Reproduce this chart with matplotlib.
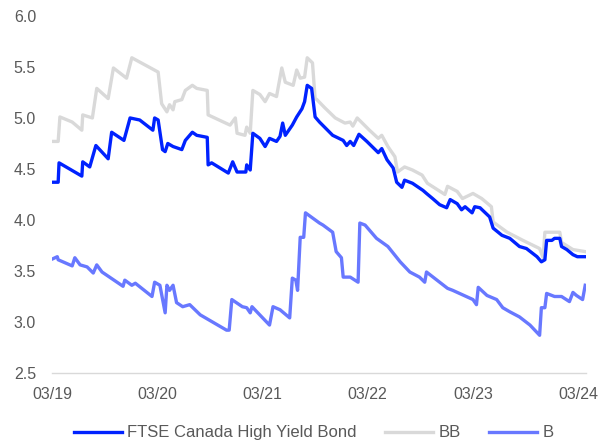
import matplotlib.pyplot as plt

plt.rcParams['font.family'] = ['Liberation Sans', 'DejaVu Sans']

# months since March 2019, yield (%)
hy_months = [0.1, 0.7, 0.8, 3.4, 3.5, 4.3, 5.0, 6.4, 6.8, 8.2, 8.9, 10.0, 11.5, 11.7,
             12.1, 12.6, 12.9, 13.2, 13.8, 14.8, 15.2, 16.0, 16.5, 17.7, 17.8, 18.2,
             20.1, 20.6, 21.1, 22.1, 22.2, 22.6, 22.9, 23.7, 24.3, 24.8, 25.6, 26.0,
             26.3, 26.6, 27.4, 27.9, 28.5, 28.8, 29.1, 29.6, 30.0, 30.5, 32.0, 33.2,
             33.6, 34.0, 34.4, 35.0, 35.9, 37.2, 37.6, 38.2, 38.9, 39.3, 39.9, 40.2,
             41.1, 42.3, 42.7, 43.4, 44.2, 45.0, 45.4, 46.2, 46.7, 47.1, 47.9, 48.2,
             48.8, 49.9, 50.3, 51.3, 52.2, 53.3, 54.1, 55.3, 55.8, 56.2, 56.4, 57.0,
             57.3, 57.9, 58.1, 58.7, 59.4, 59.9, 60.9]
hy_yield = [4.37, 4.37, 4.56, 4.43, 4.57, 4.52, 4.73, 4.60, 4.86, 4.78, 5.00, 4.98, 4.88, 5.00,
            4.98, 4.69, 4.67, 4.75, 4.72, 4.69, 4.78, 4.86, 4.83, 4.81, 4.54, 4.56,
            4.46, 4.57, 4.47, 4.47, 4.54, 4.49, 4.85, 4.80, 4.72, 4.80, 4.77, 4.82,
            4.95, 4.83, 4.93, 5.01, 5.09, 5.16, 5.32, 5.29, 5.01, 4.96, 4.83, 4.78,
            4.73, 4.77, 4.73, 4.84, 4.77, 4.66, 4.70, 4.59, 4.51, 4.37, 4.32, 4.39,
            4.36, 4.29, 4.26, 4.21, 4.15, 4.12, 4.20, 4.16, 4.10, 4.13, 4.07, 4.13,
            4.12, 4.03, 3.92, 3.85, 3.82, 3.74, 3.72, 3.64, 3.59, 3.61, 3.80, 3.80,
            3.82, 3.82, 3.74, 3.71, 3.66, 3.64, 3.64]

bb_months = [0.1, 0.7, 0.9, 2.3, 3.4, 3.5, 4.6, 5.1, 6.4, 7.0, 8.5, 9.1, 10.6, 12.1,
             12.5, 13.1, 13.4, 13.8, 14.0, 14.8, 15.2, 16.0, 16.5, 17.7, 17.8, 18.3,
             20.3, 20.9, 21.1, 22.0, 22.2, 22.6, 22.9, 23.7, 24.3, 24.8, 25.6, 26.2,
             26.6, 27.5, 27.9, 28.3, 28.8, 29.1, 29.7, 30.0, 30.2, 31.1, 32.3, 33.4,
             34.0, 34.3, 34.8, 36.2, 37.2, 37.6, 38.3, 39.1, 39.4, 40.2, 41.1, 42.2,
             42.8, 44.8, 45.1, 46.2, 46.8, 48.0, 49.0, 50.1, 50.3, 51.9, 53.7, 55.6,
             56.0, 56.2, 57.9, 58.1, 59.4, 60.8]
bb_yield = [4.77, 4.77, 5.01, 4.96, 4.88, 5.03, 5.00, 5.29, 5.19, 5.49, 5.39, 5.59, 5.52, 5.45,
            5.14, 5.06, 5.13, 5.08, 5.16, 5.18, 5.27, 5.32, 5.29, 5.27, 5.03, 5.01,
            4.93, 5.00, 4.85, 4.83, 4.91, 4.85, 5.27, 5.23, 5.16, 5.24, 5.21, 5.49,
            5.35, 5.32, 5.47, 5.39, 5.40, 5.59, 5.54, 5.19, 5.18, 5.10, 5.00, 4.95,
            4.96, 4.92, 5.00, 4.88, 4.80, 4.83, 4.72, 4.62, 4.47, 4.52, 4.49, 4.44,
            4.36, 4.25, 4.33, 4.28, 4.21, 4.26, 4.21, 4.13, 3.98, 3.88, 3.80, 3.72,
            3.63, 3.88, 3.88, 3.78, 3.71, 3.69]

b_months = [0.1, 0.6, 0.7, 2.3, 2.6, 3.2, 4.0, 4.7, 5.1, 5.7, 8.1, 8.3, 9.1, 9.5,
            11.4, 11.7, 12.3, 12.9, 13.1, 13.4, 13.8, 14.2, 14.9, 15.7, 16.9, 18.3,
            19.9, 20.2, 20.5, 21.7, 22.2, 22.6, 22.8, 24.8, 25.2, 26.0, 27.1, 27.4,
            27.8, 28.0, 28.3, 28.7, 28.9, 30.5, 30.9, 32.0, 32.4, 33.0, 33.2, 34.0,
            34.9, 35.1, 35.7, 37.0, 38.3, 39.7, 40.8, 41.9, 42.5, 42.7, 43.9, 45.1,
            45.7, 48.0, 48.4, 48.6, 49.6, 50.7, 51.4, 52.2, 53.3, 54.5, 55.6, 55.8,
            56.2, 56.4, 57.0, 57.3, 58.1, 59.0, 59.4, 59.8, 60.5, 60.8]
b_yield = [3.62, 3.64, 3.61, 3.55, 3.63, 3.56, 3.54, 3.48, 3.56, 3.49, 3.35, 3.41, 3.36, 3.38,
           3.25, 3.39, 3.36, 3.09, 3.36, 3.31, 3.36, 3.19, 3.15, 3.17, 3.07, 3.00,
           2.92, 2.92, 3.22, 3.15, 3.14, 3.09, 3.15, 2.97, 3.15, 3.12, 3.04, 3.43,
           3.41, 3.31, 3.83, 3.83, 4.07, 3.97, 3.95, 3.88, 3.69, 3.63, 3.44, 3.44,
           3.39, 3.97, 3.95, 3.82, 3.74, 3.59, 3.49, 3.44, 3.39, 3.49, 3.41, 3.33,
           3.31, 3.22, 3.17, 3.34, 3.26, 3.22, 3.14, 3.10, 3.05, 2.97, 2.87, 3.14,
           3.14, 3.28, 3.26, 3.25, 3.25, 3.20, 3.29, 3.26, 3.22, 3.36]

tick_months = [0, 12, 24, 36, 48, 60]
tick_labels = ['03/19', '03/20', '03/21', '03/22', '03/23', '03/24']
y_ticks = [2.5, 3.0, 3.5, 4.0, 4.5, 5.0, 5.5, 6.0]

fig = plt.figure(figsize=(6.15, 4.43), dpi=100)
ax = fig.add_axes([0.0846, 0.158, 0.8684, 0.806])

ax.plot(hy_months, hy_yield, color='#0022ff', lw=2.4, label='FTSE Canada High Yield Bond', zorder=3)
ax.plot(bb_months, bb_yield, color='#d9d9d9', lw=2.4, label='BB', zorder=2)
ax.plot(b_months, b_yield, color='#6878ff', lw=2.4, label='B', zorder=2)

ax.set_xlim(0, 60.9)
ax.set_ylim(2.5, 6.0)
ax.set_xticks(tick_months)
ax.set_xticklabels(tick_labels)
ax.set_yticks(y_ticks)
ax.set_yticklabels([f'{v:.1f}' for v in y_ticks])

for side in ['top', 'right', 'left']:
    ax.spines[side].set_visible(False)
ax.spines['bottom'].set_color('#d9d9d9')
ax.spines['bottom'].set_linewidth(1.0)
ax.tick_params(axis='both', length=0, labelsize=11.5, colors='#595959')
ax.tick_params(axis='y', pad=11.5)
ax.tick_params(axis='x', pad=10)

ax.legend(loc='center', bbox_to_anchor=(0.49, -0.168), ncol=3, frameon=False,
          fontsize=12, handlelength=2.9, columnspacing=1.7, handletextpad=0.3,
          labelcolor='#595959')

fig.savefig('out.png', dpi=100)
